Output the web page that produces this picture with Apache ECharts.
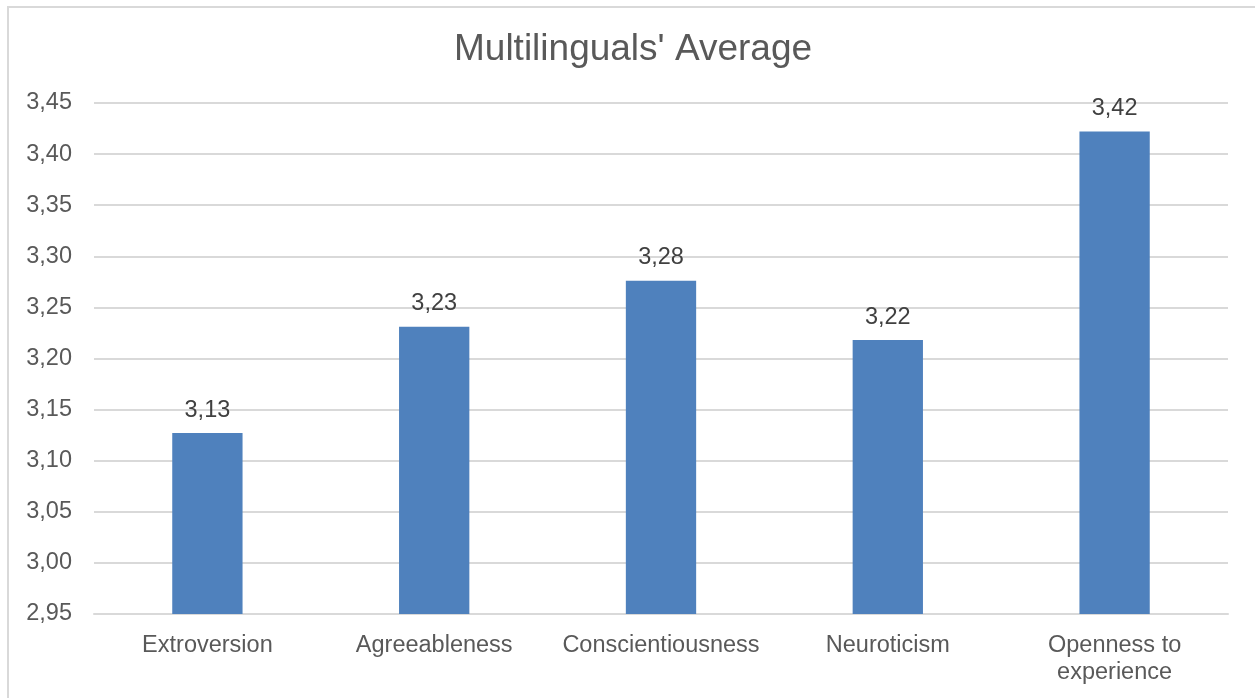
<!DOCTYPE html>
<html><head><meta charset="utf-8">
<script src="https://cdn.jsdelivr.net/npm/echarts@6/dist/echarts.min.js"></script>
<style>html,body{margin:0;padding:0;background:#fff}#c{width:1255px;height:698px}</style>
</head><body><div id="c"></div>
<script>
const categories = ['Extroversion', 'Agreeableness', 'Conscientiousness', 'Neuroticism', 'Openness to\nexperience'];
const values = [3.127, 3.231, 3.276, 3.218, 3.422];
const yMin = 2.95, yMax = 3.45, yStep = 0.05;
const fmt = v => Number(v).toFixed(2).replace('.', ',');
const chart = echarts.init(document.getElementById('c'));
chart.setOption({
  animation: false,
  backgroundColor: '#fff',
  textStyle: { fontFamily: 'Liberation Sans, Arial, sans-serif' },
  title: { text: "Multilinguals' Average", left: 449, top: 26,
    textStyle: { fontSize: 37, fontWeight: 'normal', color: '#595959', fontFamily: 'Liberation Sans, Arial, sans-serif' } },
  graphic: [{ type: 'rect', shape: { x: 8, y: 7, width: 1270, height: 720 }, style: { fill: 'none', stroke: '#d9d9d9', lineWidth: 2 }, silent: true }],
  grid: { left: 94, right: 27, top: 103, bottom: 84 },
  xAxis: { type: 'category', data: categories,
    axisLine: { lineStyle: { color: '#d9d9d9', width: 2 } }, axisTick: { show: false },
    axisLabel: { fontSize: 23.5, color: '#595959', margin: 18, lineHeight: 27, interval: 0 } },
  yAxis: { type: 'value', min: yMin, max: yMax, interval: yStep,
    axisLine: { show: false }, axisTick: { show: false },
    splitLine: { lineStyle: { color: '#d9d9d9', width: 2 } },
    axisLabel: { fontSize: 23.5, color: '#595959', margin: 22, formatter: fmt } },
  series: [{ type: 'bar', data: values, barWidth: '31%', itemStyle: { color: '#4F81BD' },
    label: { show: true, position: 'top', distance: 11, fontSize: 23.5, color: '#404040', formatter: p => fmt(p.value) } }]
});
</script></body></html>
